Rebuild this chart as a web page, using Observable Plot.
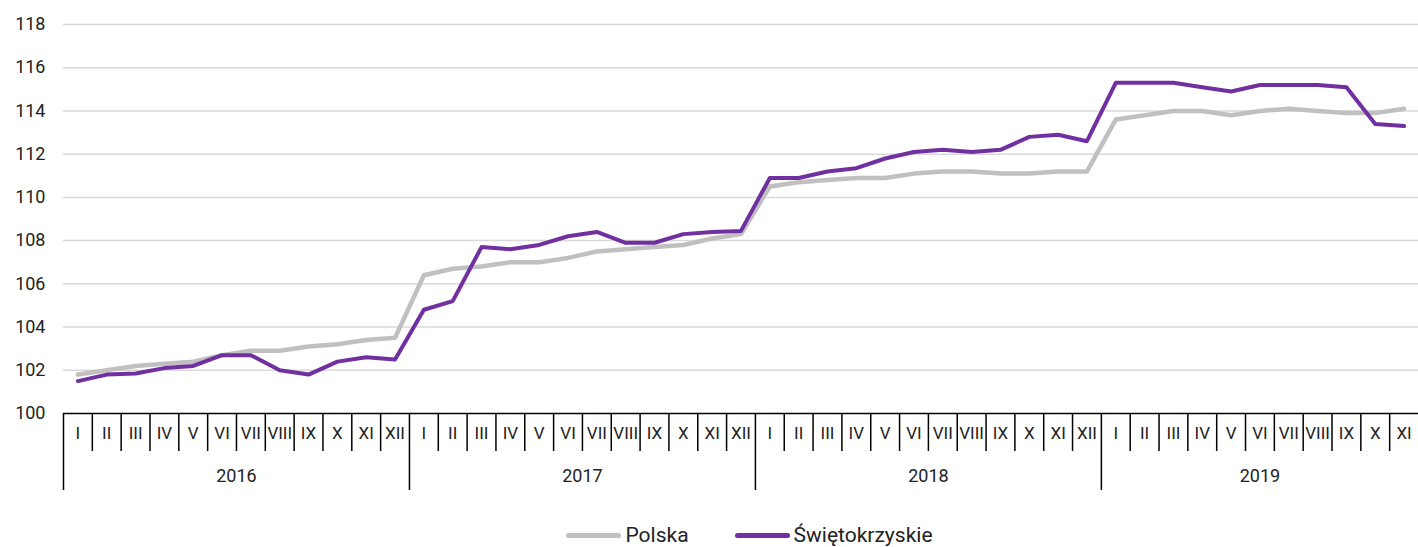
<!DOCTYPE html>
<html>
<head>
<meta charset="utf-8">
<script src="https://cdn.jsdelivr.net/npm/d3@7"></script>
<script src="https://cdn.jsdelivr.net/npm/@observablehq/plot@0.6"></script>
<style>
  html, body { margin: 0; padding: 0; background: #fff; }
  body { width: 1418px; height: 547px; overflow: hidden; font-family: Roboto, sans-serif; }
  #legend { display: flex; justify-content: center; align-items: center; height: 50px; padding-left: 81px; font-size: 21px; color: #222; }
  .item { display: flex; align-items: center; margin: 0 23px; }
  .sw { width: 55px; height: 5px; border-radius: 3px; margin-right: 4px; }
</style>
</head>
<body>
<div id="chart"></div>
<div id="legend"></div>
<script>
const monthNames = ["I","II","III","IV","V","VI","VII","VIII","IX","X","XI","XII"];
const years = ["2016","2017","2018","2019"];
const yTicks = [100,102,104,106,108,110,112,114,116,118];
const seriesNames = ["Polska","Świętokrzyskie"];
const seriesColors = ["#c0c0c0","#7030a0"];
const polska = [
  101.8,102.0,102.2,102.3,102.4,102.7,102.9,102.9,103.1,103.2,103.4,103.5,
  106.4,106.7,106.8,107.0,107.0,107.2,107.5,107.6,107.7,107.8,108.1,108.3,
  110.5,110.7,110.8,110.9,110.9,111.1,111.2,111.2,111.1,111.1,111.2,111.2,
  113.6,113.8,114.0,114.0,113.8,114.0,114.1,114.0,113.9,113.9,114.1
];
const swietokrzyskie = [
  101.5,101.8,101.85,102.1,102.2,102.7,102.7,102.0,101.8,102.4,102.6,102.5,
  104.8,105.2,107.7,107.6,107.8,108.2,108.4,107.9,107.9,108.3,108.4,108.45,
  110.9,110.9,111.2,111.35,111.8,112.1,112.2,112.1,112.2,112.8,112.9,112.6,
  115.3,115.3,115.3,115.1,114.9,115.2,115.2,115.2,115.1,113.4,113.3
];

const n = polska.length;
const rows = [];
[polska, swietokrzyskie].forEach((vals, s) => vals.forEach((v, i) => rows.push({i, v, s: seriesNames[s]})));

const boundaries = d3.range(0, n + 1);
const monthSeps = boundaries.filter(b => b % 12 !== 0 && b < n);
const yearSeps = boundaries.filter(b => b % 12 === 0 && b < n);
const monthCenters = d3.range(n).map(i => i + 0.5);
const yearCenters = years.map((y, k) => (k * 12 + Math.min(k * 12 + 12, n)) / 2);

const chart = Plot.plot({
  width: 1418,
  height: 510,
  marginLeft: 63,
  marginRight: 0,
  marginTop: 24,
  marginBottom: 97,
  style: {fontFamily: "Roboto, sans-serif", fontSize: "16px", color: "#222", background: "#fff"},
  x: {domain: [0, n], label: null},
  y: {domain: [100, 118], label: null},
  marks: [
    Plot.ruleY(yTicks.filter(t => t > 100), {stroke: "#d9d9d9", strokeWidth: 1.5}),
    Plot.axisY(yTicks, {tickSize: 0, tickPadding: 18, fontSize: 18, label: null}),
    Plot.line(rows.filter(d => d.s === seriesNames[0]), {x: d => d.i + 0.5, y: "v", stroke: seriesColors[0], strokeWidth: 4.5, strokeLinejoin: "round", strokeLinecap: "round"}),
    Plot.line(rows.filter(d => d.s === seriesNames[1]), {x: d => d.i + 0.5, y: "v", stroke: seriesColors[1], strokeWidth: 4, strokeLinejoin: "round", strokeLinecap: "round"}),
    Plot.ruleY([100], {stroke: "#000", strokeWidth: 1.5}),
    Plot.axisX(monthSeps, {tickSize: 38, tickFormat: () => "", stroke: "#000", strokeWidth: 1.5, label: null}),
    Plot.axisX(yearSeps, {tickSize: 77, tickFormat: () => "", stroke: "#000", strokeWidth: 1.5, label: null}),
    Plot.axisX(monthCenters, {tickSize: 0, tickPadding: 13, tickFormat: d => monthNames[Math.floor(d) % 12], fontSize: 17, label: null}),
    Plot.axisX(yearCenters, {tickSize: 0, tickPadding: 56, tickFormat: (d, k) => years[k], fontSize: 18, label: null})
  ]
});
document.getElementById("chart").appendChild(chart);

const legend = document.getElementById("legend");
seriesNames.forEach((name, k) => {
  const item = document.createElement("div");
  item.className = "item";
  const sw = document.createElement("span");
  sw.className = "sw";
  sw.style.background = seriesColors[k];
  const lab = document.createElement("span");
  lab.textContent = name;
  item.appendChild(sw);
  item.appendChild(lab);
  legend.appendChild(item);
});
</script>
</body>
</html>
